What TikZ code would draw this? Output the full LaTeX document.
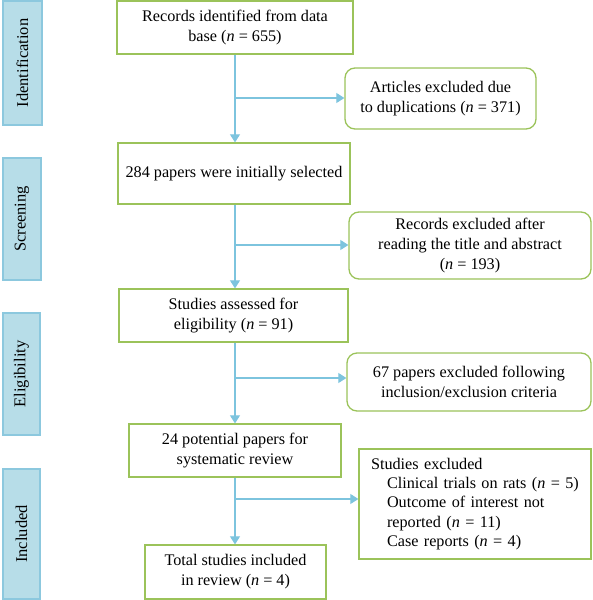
\documentclass[tikz,border=0pt]{standalone}
\usepackage{fontspec}
\setmainfont{Liberation Serif}
\usetikzlibrary{arrows.meta}
\definecolor{gborder}{RGB}{155,195,90}
\definecolor{phfill}{RGB}{183,221,232}
\definecolor{phborder}{RGB}{140,200,222}
\definecolor{arrblue}{RGB}{125,196,222}
\tikzset{
  mainbox/.style={draw=gborder, line width=1.3pt, fill=white, align=center, inner sep=0pt, font=\fontsize{16.2}{20}\selectfont},
  exbox/.style={mainbox, rounded corners=10pt},
  phase/.style={draw=phborder, line width=1.2pt, fill=phfill, rotate=90, inner sep=0pt, font=\fontsize{16.5}{18}\selectfont},
  arr/.style={draw=arrblue, line width=1.1pt, -{Triangle[length=8pt,width=10pt]}}
}
\begin{document}
\begin{tikzpicture}[x=1pt,y=-1pt]
\useasboundingbox (0,0) rectangle (592,600);
% phase boxes
\node[phase, minimum width=124, minimum height=39] (pid) at (22.5,63) {Identification};
\node[phase, minimum width=122, minimum height=38] (psc) at (22,219) {Screening};
\node[phase, minimum width=122, minimum height=37] (pel) at (21.5,374) {Eligibility};
\node[phase, minimum width=130, minimum height=37] (pin) at (21.5,534) {Included};
% main column
\node[mainbox, minimum width=236, minimum height=53] (b1) at (235,27.5) {Records identified from data\\ base (\textit{n} = 655)};
\node[mainbox, minimum width=232, minimum height=61] (b2) at (234,173.5) {284 papers were initially selected};
\node[mainbox, minimum width=229, minimum height=53] (b3) at (233.5,315.5) {Studies assessed for\\ eligibility (\textit{n} = 91)};
\node[mainbox, minimum width=212, minimum height=53] (b4) at (235,450.5) {24 potential papers for\\ systematic review};
\node[mainbox, minimum width=181, minimum height=54] (b5) at (235.5,572) {Total studies included\\ in review (\textit{n} = 4)};
% exclusion boxes
\node[exbox, minimum width=191, minimum height=61] (e1) at (440.5,98.5) {Articles excluded due\\ to duplications (\textit{n} = 371)};
\node[exbox, minimum width=242, minimum height=67] (e2) at (470,245.5) {Records excluded after\\ reading the title and abstract\\ (\textit{n} = 193)};
\node[exbox, minimum width=244, minimum height=58] (e3) at (469,382) {67 papers excluded following\\ inclusion/exclusion criteria};
\node[mainbox, minimum width=232, minimum height=110, align=left, text width=208pt, inner xsep=12pt, font=\fontsize{16.2}{19.3}\selectfont] (e4) at (475,504) {Studies excluded\\
\hspace*{16pt}Clinical trials on rats (\textit{n} = 5)\\
\hspace*{16pt}Outcome of interest not\\
\hspace*{16pt}reported (\textit{n} = 11)\\
\hspace*{16pt}Case reports (\textit{n} = 4)};
% junctions
\coordinate (j1) at (235,98);
\coordinate (j2) at (235,245);
\coordinate (j3) at (235,378);
\coordinate (j4) at (235,499);
% connectors
\draw[arr] (b1.south -| j1) -- (b2.north -| j1);
\draw[arr] (b2.south -| j2) -- (b3.north -| j2);
\draw[arr] (b3.south -| j3) -- (b4.north -| j3);
\draw[arr] (b4.south -| j4) -- (b5.north -| j4);
\draw[arr] (j1) -- (j1 -| e1.west);
\draw[arr] (j2) -- (j2 -| e2.west);
\draw[arr] (j3) -- (j3 -| e3.west);
\draw[arr] (j4) -- (j4 -| e4.west);
\end{tikzpicture}
\end{document}
